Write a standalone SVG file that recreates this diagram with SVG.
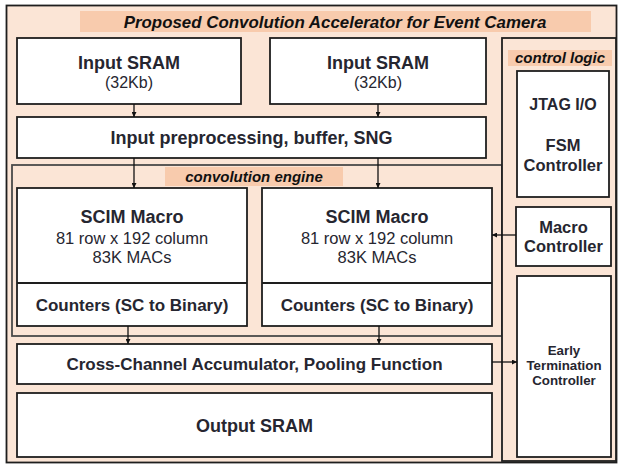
<svg xmlns="http://www.w3.org/2000/svg" width="619" height="464" viewBox="0 0 619 464">
<style>
.box{fill:#ffffff;stroke:#1e1e1e;stroke-width:1.8}
.grp{fill:#fbe5d6;stroke:#1e1e1e;stroke-width:1.8}
.eng{fill:#fbe5d6;stroke:#4a4a4a;stroke-width:1.8}
.lab{fill:#f8cbad}
text{font-family:"Liberation Sans",Arial,sans-serif;fill:#262630;text-anchor:middle}
.b{font-weight:bold}
.bi{font-weight:bold;font-style:italic;fill:#111}
.wire{stroke:#111;stroke-width:1.3;fill:none;marker-end:url(#ah)}
</style>
<defs>
<marker id="ah" viewBox="0 0 10 10" refX="10" refY="5" markerWidth="5" markerHeight="5" orient="auto" markerUnits="userSpaceOnUse">
<path d="M0,0 L10,5 L0,10 z" fill="#111"/>
</marker>
</defs>
<g id="frame">
<rect class="grp" x="6.5" y="5.5" width="610" height="457"/>
<rect class="lab" x="80" y="11" width="511" height="21"/>
<text class="bi" x="335" y="27.5" font-size="16.9">Proposed Convolution Accelerator for Event Camera</text>
</g>
<g id="input-sram-1">
<rect class="box" x="17" y="38" width="224" height="66"/>
<text class="b" x="129" y="69" font-size="18">Input SRAM</text>
<text x="129" y="88" font-size="16">(32Kb)</text>
</g>
<g id="input-sram-2">
<rect class="box" x="270" y="38" width="216" height="66"/>
<text class="b" x="378" y="69" font-size="18">Input SRAM</text>
<text x="378" y="88" font-size="16">(32Kb)</text>
</g>
<g id="preproc">
<rect class="box" x="17" y="117" width="469" height="41"/>
<text class="b" x="251.5" y="144" font-size="18">Input preprocessing, buffer, SNG</text>
</g>
<g id="convolution-engine">
<rect class="eng" x="12" y="165" width="490" height="171"/>
<rect class="lab" x="165" y="167" width="178" height="19"/>
<text class="bi" x="254" y="181.5" font-size="15">convolution engine</text>
</g>
<g id="scim-1">
<rect class="box" x="17" y="188" width="230" height="138"/>
<line x1="17" y1="283" x2="247" y2="283" stroke="#1e1e1e" stroke-width="1.8"/>
<text class="b" x="132" y="223" font-size="18">SCIM Macro</text>
<text x="132" y="244" font-size="16.5">81 row x 192 column</text>
<text x="132" y="263" font-size="16.5">83K MACs</text>
<text class="b" x="132" y="311" font-size="17">Counters (SC to Binary)</text>
</g>
<g id="scim-2">
<rect class="box" x="262" y="188" width="230" height="138"/>
<line x1="262" y1="283" x2="492" y2="283" stroke="#1e1e1e" stroke-width="1.8"/>
<text class="b" x="377" y="223" font-size="18">SCIM Macro</text>
<text x="377" y="244" font-size="16.5">81 row x 192 column</text>
<text x="377" y="263" font-size="16.5">83K MACs</text>
<text class="b" x="377" y="311" font-size="17">Counters (SC to Binary)</text>
</g>
<g id="accumulator">
<rect class="box" x="17" y="344" width="475" height="40"/>
<text class="b" x="254.5" y="370" font-size="17">Cross-Channel Accumulator, Pooling Function</text>
</g>
<g id="output-sram">
<rect class="box" x="17" y="393" width="475" height="64"/>
<text class="b" x="254.5" y="432" font-size="18">Output SRAM</text>
</g>
<g id="control-logic">
<rect class="grp" x="502" y="38" width="114" height="423"/>
<rect class="lab" x="508" y="50" width="104" height="16"/>
<text class="bi" x="560" y="63" font-size="15">control logic</text>
</g>
<g id="jtag-fsm">
<rect class="box" x="517" y="71" width="92" height="126"/>
<text class="b" x="563" y="110" font-size="16">JTAG I/O</text>
<text class="b" x="563" y="151" font-size="16.5">FSM</text>
<text class="b" x="563" y="171" font-size="16.5">Controller</text>
</g>
<g id="macro-controller">
<rect class="box" x="516" y="207" width="95" height="59"/>
<text class="b" x="563.5" y="233" font-size="16.5">Macro</text>
<text class="b" x="563.5" y="252" font-size="16.5">Controller</text>
</g>
<g id="early-termination">
<rect class="box" x="517" y="276" width="94" height="181"/>
<text class="b" x="564" y="355" font-size="13.3">Early</text>
<text class="b" x="564" y="370" font-size="13.3">Termination</text>
<text class="b" x="564" y="385" font-size="13.3">Controller</text>
</g>
<g id="connectors">
<line class="wire" x1="134" y1="104" x2="134" y2="117"/>
<line class="wire" x1="378" y1="104" x2="378" y2="117"/>
<line class="wire" x1="134" y1="158" x2="134" y2="188"/>
<line class="wire" x1="378" y1="158" x2="378" y2="188"/>
<line class="wire" x1="128" y1="326" x2="128" y2="344"/>
<line class="wire" x1="379" y1="326" x2="379" y2="344"/>
<line class="wire" x1="516" y1="235" x2="492" y2="235"/>
<line class="wire" x1="492" y1="362" x2="517" y2="362"/>
</g>
</svg>
